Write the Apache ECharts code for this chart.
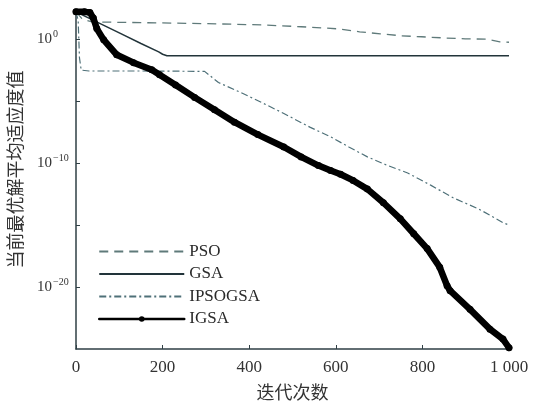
<!DOCTYPE html>
<html>
<head>
<meta charset="utf-8">
<script src="https://cdn.jsdelivr.net/npm/echarts@6/dist/echarts.min.js"></script>
<style>
  html, body { margin: 0; padding: 0; background: #fff; }
  #chart { width: 534px; height: 408px; }
</style>
</head>
<body>
<div id="chart"></div>
<script>
// values are log10 of the fitness
const psoIter = [0, 15, 37, 150, 300, 428, 520, 605, 655, 703, 752, 798, 848, 899, 947, 979, 1000];
const psoLog = [2.2, 1.6, 1.39, 1.33, 1.25, 1.15, 1.0, 0.83, 0.59, 0.43, 0.27, 0.19, 0.1, 0.02, 0.0, -0.22, -0.25];

const gsaIter = [0, 50, 100, 150, 191, 200, 210, 1000];
const gsaLog = [2.2, 1.35, 0.5, -0.35, -1.03, -1.22, -1.34, -1.34];

const ipsoIter = [0, 5, 8, 12, 30, 150, 297, 329, 380, 428, 480, 540, 589, 630, 673, 720, 766, 820, 871, 930, 986, 1000];
const ipsoLog = [2.2, 1.5, -1.5, -2.5, -2.57, -2.57, -2.6, -3.5, -4.3, -5.1, -6.0, -7.1, -7.9, -8.7, -9.5, -10.2, -10.8, -11.8, -12.8, -13.7, -14.8, -15.0];

const igsaIter = [0, 20, 32, 40, 48, 64, 94, 133, 175, 193, 230, 274, 320, 366, 420, 480, 520, 560, 588, 611, 640, 673, 710, 749, 780, 811, 840, 857, 864, 910, 956, 986, 1000];
const igsaLog = [2.2, 2.2, 2.15, 1.7, 0.85, -0.06, -1.26, -1.9, -2.47, -2.87, -3.7, -4.7, -5.7, -6.7, -7.7, -8.7, -9.5, -10.2, -10.6, -10.9, -11.4, -12.1, -13.2, -14.5, -15.7, -16.9, -18.4, -19.9, -20.3, -21.8, -23.4, -24.2, -24.9];

const yLabelTicks = [-20, -10, 0];
const yMinorTicks = [-20, -15, -10, -5, 0];

const pairs = (xs, ys) => xs.map((x, i) => [x, ys[i]]);
const serif = "'Liberation Serif', 'Times New Roman', serif";
const cjk = "'Liberation Serif', 'Noto Sans CJK SC', serif";

const chart = echarts.init(document.getElementById('chart'));

const noDot = { opacity: 0 };

const option = {
  animation: false,
  grid: { left: 74, right: 25, top: 10, bottom: 57 },
  legend: {
    orient: 'vertical',
    left: 93,
    top: 238,
    itemWidth: 85,
    itemHeight: 7,
    itemGap: 5.5,
    textStyle: { fontFamily: serif, fontSize: 17, color: '#2a2a2a' },
    data: [
      { name: 'PSO', itemStyle: noDot },
      { name: 'GSA', itemStyle: noDot },
      { name: 'IPSOGSA', itemStyle: noDot },
      { name: 'IGSA', lineStyle: { width: 2.5 } },
    ],
  },
  xAxis: {
    type: 'value',
    min: 0,
    max: 1000,
    interval: 200,
    name: '迭代次数',
    nameLocation: 'middle',
    nameGap: 36,
    nameTextStyle: { fontFamily: cjk, fontSize: 18, color: '#333' },
    axisLine: { onZero: false, lineStyle: { color: '#2f3f45', width: 1.5 } },
    axisTick: { inside: true, length: 4, lineStyle: { color: '#2f3f45' } },
    axisLabel: {
      fontFamily: serif, fontSize: 17, color: '#333', margin: 10,
      formatter: (v) => (v === 1000 ? '1 000' : String(v)),
    },
    splitLine: { show: false },
  },
  yAxis: {
    type: 'value',
    min: -25,
    max: 2.35,
    name: '当前最优解平均适应度值',
    nameLocation: 'middle',
    nameGap: 50,
    nameTextStyle: { fontFamily: cjk, fontSize: 18, color: '#333', padding: [0, 0, 0, 20] },
    axisLine: { onZero: false, lineStyle: { color: '#2f3f45', width: 1.5 } },
    axisTick: { inside: true, length: 4, customValues: yMinorTicks, lineStyle: { color: '#2f3f45' } },
    axisLabel: {
      customValues: yLabelTicks,
      align: 'left',
      margin: 39,
      formatter: (v) => '{b|10}{s|' + (v < 0 ? '−' + (-v) : v) + '}',
      rich: {
        b: { fontFamily: serif, fontSize: 15, color: '#333' },
        s: { fontFamily: serif, fontSize: 10, color: '#333', padding: [0, 0, 9, 1] },
      },
    },
    splitLine: { show: false },
  },
  series: [
    {
      name: 'PSO', type: 'line', symbol: 'none',
      lineStyle: { color: '#5f7a7a', width: 1.3, type: [9, 6] },
      itemStyle: { color: '#5f7a7a' },
      data: pairs(psoIter, psoLog),
    },
    {
      name: 'GSA', type: 'line', symbol: 'none',
      lineStyle: { color: '#22343a', width: 1.5 },
      itemStyle: { color: '#22343a' },
      data: pairs(gsaIter, gsaLog),
    },
    {
      name: 'IPSOGSA', type: 'line', symbol: 'none',
      lineStyle: { color: '#4e7078', width: 1.2, type: [7, 3, 2, 3] },
      itemStyle: { color: '#4e7078' },
      data: pairs(ipsoIter, ipsoLog),
    },
    {
      name: 'IGSA', type: 'line', symbol: 'circle', symbolSize: 7,
      lineStyle: { color: '#000', width: 6.5, cap: 'round', join: 'round' },
      itemStyle: { color: '#000' },
      data: pairs(igsaIter, igsaLog),
    },
  ],
};

chart.setOption(option);
</script>
</body>
</html>
